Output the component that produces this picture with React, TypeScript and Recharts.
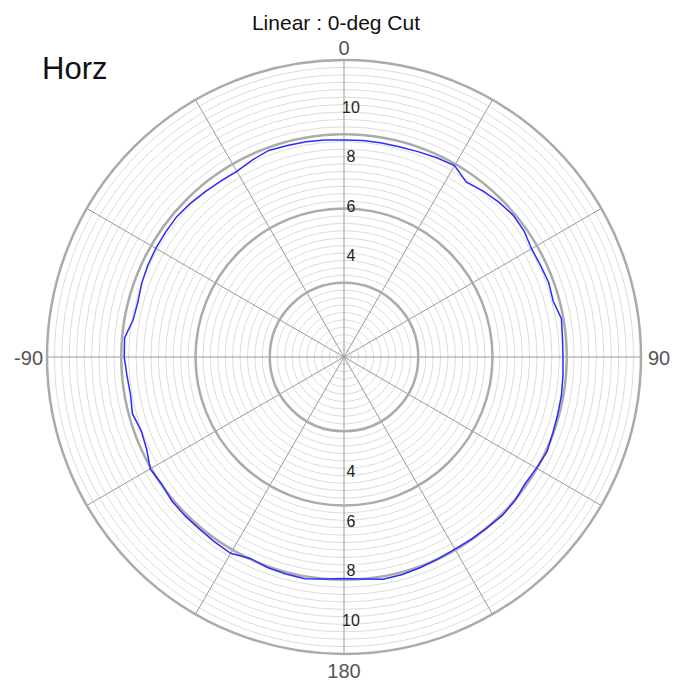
import { RadarChart, Radar, PolarGrid, PolarAngleAxis, PolarRadiusAxis } from "recharts";

// sample angles (deg, clockwise from top) and linear gain
const angles = [
  0, 5, 10, 15, 20, 25, 30, 35, 40, 45, 50, 55, 60, 65, 70, 75, 80, 85,
  90, 95, 100, 105, 110, 115, 120, 125, 130, 135, 140, 145, 150, 155, 160, 165, 170, 175,
  180, 185, 190, 195, 200, 205, 210, 215, 220, 225, 230, 235, 240, 245, 250, 255, 260, 265,
  270, 275, 280, 285, 290, 295, 300, 305, 310, 315, 320, 325, 330, 335, 340, 345, 350, 355,
];
const gain = [
  8.77, 8.78, 8.78, 8.78, 8.82, 8.88, 8.93, 8.62, 8.75, 8.85, 8.92, 8.88, 8.75, 8.76, 8.8, 8.75, 8.92, 8.86,
  8.85, 8.88, 8.92, 8.94, 8.98, 9.05, 8.98, 8.93, 9.02, 9.05, 9.0, 8.98, 8.96, 9.0, 9.05, 9.1, 9.12, 9.0,
  8.95, 9.0, 9.1, 9.08, 9.05, 8.98, 9.16, 9.12, 9.08, 9.08, 9.07, 8.98, 9.04, 8.8, 8.72, 8.85, 8.76, 8.8,
  8.88, 8.9, 8.65, 8.62, 8.7, 8.75, 8.78, 8.8, 8.82, 8.78, 8.72, 8.68, 8.66, 8.78, 8.88, 8.85, 8.83, 8.8,
];

const angleLabels: Record<number, string> = { 0: "0", 90: "90", 180: "180", 270: "-90" };
const radiusLabels = [4, 6, 8, 10];
const majorRings = [3, 6, 9, 12];
const minorRings = Array.from({ length: 40 }, (_, i) => Math.round((i + 1) * 3) / 10);
const spokes = [0, 30, 60, 90, 120, 150, 180, 210, 240, 270, 300, 330];
const MAX = 12;

const data = angles.map((a, i) => ({ angle: a, value: gain[i] }));

const W = 686;
const H = 682;
const CX = 344;
const CY = 357;
const R = 297;
const FONT = "Arial, 'Liberation Sans', Helvetica, sans-serif";

// grid rings are given to PolarGrid in pixels
const toPx = (v: number) => (v / MAX) * R;

function AngleTick(props: any) {
  const { x, y, payload } = props;
  const label = angleLabels[payload.value];
  if (label === undefined) return <g />;
  let anchor = "middle";
  let dx = 0;
  let dy = 0;
  if (payload.value === 0) dy = 3;
  else if (payload.value === 180) dy = 16;
  else if (payload.value === 90) {
    anchor = "start";
    dx = -1;
    dy = 8;
  } else {
    anchor = "end";
    dx = 4;
    dy = 8;
  }
  return (
    <text x={x + dx} y={y + dy} textAnchor={anchor} fontSize={20} fill="#555" fontFamily={FONT}>
      {label}
    </text>
  );
}

function RadiusTick(props: any) {
  const { x, y, payload } = props;
  const r = CY - y;
  return (
    <g>
      <text x={x + 7} y={y + 3} textAnchor="middle" fontSize={16} fill="#222" fontFamily={FONT}>
        {payload.value}
      </text>
      <text x={x + 7} y={CY + r + 21} textAnchor="middle" fontSize={16} fill="#222" fontFamily={FONT}>
        {payload.value}
      </text>
    </g>
  );
}

export default function App() {
  return (
    <div style={{ position: "absolute", left: 0, top: 0, width: W, height: H, background: "#fff" }}>
      <RadarChart width={W} height={H} data={data} cx={CX} cy={CY} outerRadius={R} innerRadius={0}>
        <PolarGrid
          gridType="circle"
          radialLines={false}
          polarRadius={minorRings.map(toPx)}
          polarAngles={spokes}
          stroke="#dcdcdc"
          strokeWidth={1}
        />
        <PolarGrid
          gridType="circle"
          polarRadius={majorRings.map(toPx)}
          polarAngles={spokes}
          stroke="#9a9a9a"
          strokeWidth={1}
        />
        <PolarGrid
          gridType="circle"
          radialLines={false}
          polarRadius={majorRings.map(toPx)}
          polarAngles={spokes}
          stroke="#ababab"
          strokeWidth={2.5}
        />
        <PolarAngleAxis dataKey="angle" axisLine={false} tickLine={false} tick={<AngleTick />} />
        <PolarRadiusAxis
          angle={90}
          domain={[0, MAX]}
          ticks={radiusLabels}
          axisLine={false}
          tickLine={false}
          tick={<RadiusTick />}
        />
        <Radar
          dataKey="value"
          stroke="#2b2bff"
          strokeWidth={1.5}
          fill="none"
          fillOpacity={0}
          dot={false}
          isAnimationActive={false}
        />
      </RadarChart>
      <svg width={W} height={H} style={{ position: "absolute", left: 0, top: 0, pointerEvents: "none" }}>
        <text x={336} y={30} textAnchor="middle" fontSize={21} fill="#111" fontFamily={FONT}>
          Linear : 0-deg Cut
        </text>
        <text x={42} y={79} fontSize={31} fill="#111" fontFamily={FONT}>
          Horz
        </text>
      </svg>
    </div>
  );
}
